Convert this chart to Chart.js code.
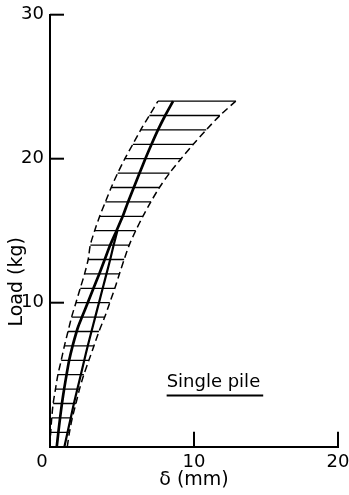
<!DOCTYPE html>
<html>
<head>
<meta charset="utf-8">
<script src="https://cdn.jsdelivr.net/npm/chart.js@4.4.1/dist/chart.umd.min.js"></script>
<style>
html,body{margin:0;padding:0;background:#fff;}
#wrap{width:349px;height:495px;position:relative;}
</style>
</head>
<body>
<div id="wrap"><canvas id="c" width="349" height="495"></canvas></div>
<script>
// ---- data ----
const loads = [0,1,2,3,4,5,6,7,8,9,10,11,12,13,14,15,16,17,18,19,20,21,22,23,24];
// left (stiff) dashed envelope, δ in mm
const lowerEnvelope = [0.0,0.05,0.12,0.22,0.38,0.55,0.78,1.0,1.25,1.5,1.8,2.1,2.4,2.65,2.8,3.1,3.45,3.85,4.25,4.7,5.2,5.75,6.3,6.9,7.5];
// right (soft) dashed envelope, δ in mm
const upperEnvelope = [1.2,1.35,1.55,1.8,2.05,2.35,2.7,3.05,3.4,3.8,4.15,4.5,4.82,5.15,5.5,5.95,6.45,7.0,7.6,8.3,9.1,9.95,10.85,11.8,12.9];
// solid curve A (thick, with bend near 8.4 kg)
const curveALoads = [0,1,2,3,4,5,6,7,8,8.4,9,10,11,12,13,14,15,16,17,18,19,20,21,22,23,24];
const curveA = [0.47,0.58,0.7,0.83,0.98,1.15,1.33,1.57,1.85,1.98,2.22,2.62,3.02,3.42,3.8,4.18,4.62,5.05,5.42,5.82,6.22,6.62,7.05,7.5,8.0,8.55];
// solid curve B (joins A near 15 kg)
const curveBLoads = [0,1,2,3,4,5,6,7,8,9,10,11,12,13,14,15];
const curveB = [1.0,1.22,1.44,1.66,1.9,2.14,2.38,2.62,2.88,3.14,3.4,3.66,3.92,4.18,4.42,4.68];
// hatch lines at every integer load between the envelopes
const hatchLoads = [1,2,3,4,5,6,7,8,9,10,11,12,13,14,15,16,17,18,19,20,21,22,23,24];
// axes
const xTickValues = [0,10,20];
const yTickValues = [0,10,20,30];
const xTitle = 'δ (mm)';
const yTitle = 'Load (kg)';
const noteText = 'Single pile';
const notePos = {x: 8.1, y: 4.45};

// ---- build datasets ----
const pts = (xs, ys) => xs.map((x, i) => ({x: x, y: ys[i]}));
const hatchData = [];
hatchLoads.forEach(L => {
  const i = loads.indexOf(L);
  hatchData.push({x: lowerEnvelope[i], y: L});
  hatchData.push({x: upperEnvelope[i], y: L});
  hatchData.push({x: upperEnvelope[i], y: null});
});

const FONT = "'DejaVu Sans', sans-serif";

const decor = {
  id: 'decor',
  afterDraw(chart) {
    const ctx = chart.ctx;
    const xs = chart.scales.x, ys = chart.scales.y;
    const left = chart.chartArea.left, bottom = chart.chartArea.bottom;
    ctx.save();
    ctx.strokeStyle = '#000';
    ctx.lineWidth = 2;
    // inward tick marks on y axis
    yTickValues.forEach(v => {
      if (v === 0) return;
      const py = ys.getPixelForValue(v);
      ctx.beginPath(); ctx.moveTo(left, py); ctx.lineTo(left + 14, py); ctx.stroke();
    });
    // inward tick marks on x axis
    xTickValues.forEach(v => {
      if (v === 0) return;
      const px = xs.getPixelForValue(v);
      ctx.beginPath(); ctx.moveTo(px, bottom); ctx.lineTo(px, bottom - 15); ctx.stroke();
    });
    // origin label, set slightly left of the corner as in the original
    ctx.fillStyle = '#000';
    ctx.font = '18px ' + FONT;
    ctx.textAlign = 'center';
    ctx.textBaseline = 'middle';
    ctx.fillText(String(xTickValues[0]), xs.getPixelForValue(0) - 8, bottom + 15.8);
    // y-axis title
    ctx.font = '19px ' + FONT;
    ctx.translate(17, ys.getPixelForValue(11.45));
    ctx.rotate(-Math.PI / 2);
    ctx.fillText(yTitle, 0, 0);
    ctx.restore();
    // note with underline
    ctx.save();
    ctx.fillStyle = '#000';
    ctx.strokeStyle = '#000';
    ctx.font = '18px ' + FONT;
    ctx.textAlign = 'left';
    ctx.textBaseline = 'middle';
    const nx = xs.getPixelForValue(notePos.x), ny = ys.getPixelForValue(notePos.y);
    ctx.fillText(noteText, nx, ny);
    const w = ctx.measureText(noteText).width;
    ctx.lineWidth = 2;
    ctx.beginPath(); ctx.moveTo(nx, ny + 13); ctx.lineTo(nx + w + 3, ny + 13); ctx.stroke();
    ctx.restore();
  }
};

new Chart(document.getElementById('c'), {
  type: 'scatter',
  data: {
    datasets: [
      {label: 'hatch', data: hatchData, showLine: true, spanGaps: false, borderColor: '#000', borderWidth: 1.3, pointRadius: 0, tension: 0},
      {label: 'lower', data: pts(lowerEnvelope, loads), showLine: true, borderColor: '#000', borderWidth: 1.5, borderDash: [7, 4], pointRadius: 0, tension: 0.3},
      {label: 'upper', data: pts(upperEnvelope, loads), showLine: true, borderColor: '#000', borderWidth: 1.5, borderDash: [7, 4], pointRadius: 0, tension: 0.3},
      {label: 'B', data: pts(curveB, curveBLoads), showLine: true, borderColor: '#000', borderWidth: 2.2, pointRadius: 0, tension: 0.3},
      {label: 'A', data: pts(curveA, curveALoads), showLine: true, borderColor: '#000', borderWidth: 2.7, pointRadius: 0, tension: 0.2}
    ]
  },
  options: {
    responsive: false,
    animation: false,
    devicePixelRatio: 1,
    layout: {padding: {top: 14.7, right: 11, left: 0, bottom: 0}},
    plugins: {legend: {display: false}, tooltip: {enabled: false}},
    scales: {
      x: {
        type: 'linear', min: 0, max: 20,
        grid: {display: false, drawTicks: false},
        border: {display: true, color: '#000', width: 2},
        ticks: {stepSize: 10, color: '#000', padding: 5, font: {family: FONT, size: 18}, maxRotation: 0,
                callback: v => v === 0 ? '' : v},
        title: {display: true, text: xTitle, color: '#000', font: {family: FONT, size: 19}, padding: {top: 2, bottom: 4}},
        afterFit: s => { s.height = 48.3; s.paddingLeft = 0; s.paddingRight = 0; }
      },
      y: {
        type: 'linear', min: 0, max: 30,
        grid: {display: false, drawTicks: false},
        border: {display: true, color: '#000', width: 2},
        ticks: {stepSize: 10, color: '#000', padding: 6, font: {family: FONT, size: 18}, callback: v => v === 0 ? '' : v},
        afterFit: s => { s.width = 50; s.paddingTop = 0; s.paddingBottom = 0; }
      }
    }
  },
  plugins: [decor]
});
</script>
</body>
</html>
